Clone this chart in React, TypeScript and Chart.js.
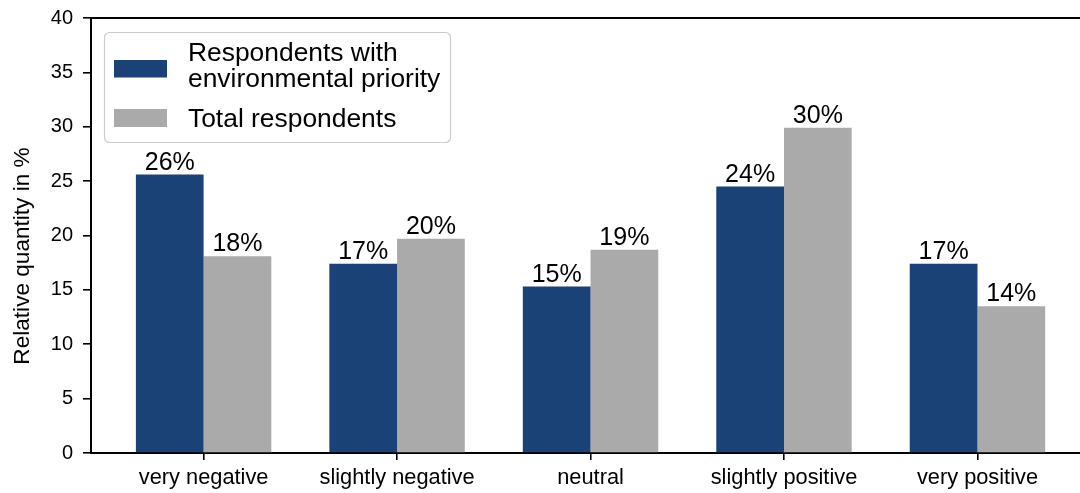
import React, { useEffect, useRef } from "react";
import { Chart, registerables } from "chart.js";

Chart.register(...registerables);

const categories = ["very negative", "slightly negative", "neutral", "slightly positive", "very positive"];
const envPriority = [25.6, 17.4, 15.3, 24.5, 17.4];
const totalResp = [18.1, 19.7, 18.7, 29.9, 13.5];
const envLabels = ["26%", "17%", "15%", "24%", "17%"];
const totalLabels = ["18%", "20%", "19%", "30%", "14%"];
const yTicks = [0, 5, 10, 15, 20, 25, 30, 35, 40];
const envName = ["Respondents with", "environmental priority"];
const totalName = ["Total respondents"];
const yTitle = "Relative quantity in %";

const BLUE = "#1b4276";
const GREY = "#aaaaaa";
const FONT = "'Liberation Sans', Arial, sans-serif";

export default function App() {
  const ref = useRef<HTMLCanvasElement>(null);
  useEffect(() => {
    document.body.style.margin = "0";
    document.body.style.overflow = "hidden";
    const canvas = ref.current!;
    const labelSets = [envLabels, totalLabels];

    const extras = {
      id: "extras",
      afterDraw(chart: any) {
        const ctx = chart.ctx;
        const ca = chart.chartArea;
        ctx.save();
        // top spine
        ctx.strokeStyle = "#000";
        ctx.lineWidth = 2;
        ctx.beginPath();
        ctx.moveTo(ca.left - 1, ca.top);
        ctx.lineTo(chart.width, ca.top);
        ctx.stroke();
        // bar labels
        ctx.fillStyle = "#000";
        ctx.font = `25px ${FONT}`;
        ctx.textAlign = "center";
        ctx.textBaseline = "alphabetic";
        chart.data.datasets.forEach((ds: any, di: number) => {
          const meta = chart.getDatasetMeta(di);
          meta.data.forEach((el: any, i: number) => {
            ctx.fillText(labelSets[di][i], el.x, el.y - 5);
          });
        });
        // y title
        ctx.save();
        ctx.translate(23, 256);
        ctx.rotate(-Math.PI / 2);
        ctx.font = `22.6px ${FONT}`;
        ctx.textAlign = "center";
        ctx.textBaseline = "middle";
        ctx.fillText(yTitle, 0, 0);
        ctx.restore();
        // legend
        const lx = 104.5, ly = 32.5, lw = 346, lh = 110, r = 5;
        ctx.beginPath();
        ctx.moveTo(lx + r, ly);
        ctx.arcTo(lx + lw, ly, lx + lw, ly + lh, r);
        ctx.arcTo(lx + lw, ly + lh, lx, ly + lh, r);
        ctx.arcTo(lx, ly + lh, lx, ly, r);
        ctx.arcTo(lx, ly, lx + lw, ly, r);
        ctx.closePath();
        ctx.fillStyle = "rgba(255,255,255,0.85)";
        ctx.fill();
        ctx.strokeStyle = "#cccccc";
        ctx.lineWidth = 1.2;
        ctx.stroke();
        ctx.fillStyle = BLUE;
        ctx.fillRect(114, 60, 53, 17.5);
        ctx.fillStyle = GREY;
        ctx.fillRect(114, 109, 53, 18);
        ctx.fillStyle = "#000";
        ctx.font = `26.4px ${FONT}`;
        ctx.textAlign = "left";
        ctx.textBaseline = "alphabetic";
        ctx.fillText(envName[0], 188, 61);
        ctx.fillText(envName[1], 188, 87);
        ctx.fillText(totalName[0], 188, 127);
        ctx.restore();
      },
    };

    const chart = new Chart(canvas, {
      type: "bar",
      data: {
        datasets: [
          {
            label: envName.join(" "),
            data: envPriority.map((v, i) => ({ x: i, y: v })),
            backgroundColor: BLUE,
            borderWidth: 0,
          },
          {
            label: totalName[0],
            data: totalResp.map((v, i) => ({ x: i, y: v })),
            backgroundColor: GREY,
            borderWidth: 0,
          },
        ],
      },
      options: {
        responsive: false,
        animation: false,
        devicePixelRatio: 1,
        layout: { padding: { top: 18, right: 0, left: 0, bottom: 0 } },
        datasets: { bar: { categoryPercentage: 0.7, barPercentage: 1.0 } },
        plugins: { legend: { display: false }, tooltip: { enabled: false } },
        scales: {
          x: {
            type: "linear",
            min: -0.582,
            max: 4.53,
            offset: false,
            afterBuildTicks: (scale: any) => {
              scale.ticks = categories.map((_, i) => ({ value: i }));
            },
            afterFit: (scale: any) => {
              scale.height = 40;
              scale.paddingLeft = 0;
              scale.paddingRight = 0;
            },
            ticks: {
              autoSkip: false,
              maxRotation: 0,
              color: "#000",
              font: { family: FONT, size: 21.8 },
              padding: 5,
              callback: (v: any) => categories[v] ?? "",
            },
            grid: {
              offset: false,
              drawOnChartArea: false,
              drawTicks: true,
              tickLength: 7,
              color: "#000",
              lineWidth: 1.6,
            },
            border: { display: true, color: "#000", width: 2 },
          },
          y: {
            min: 0,
            max: 40,
            afterBuildTicks: (scale: any) => {
              scale.ticks = yTicks.map((v) => ({ value: v }));
            },
            afterFit: (scale: any) => {
              scale.width = 91;
              scale.paddingTop = 0;
              scale.paddingBottom = 0;
            },
            ticks: {
              color: "#000",
              font: { family: FONT, size: 20 },
              padding: 10,
            },
            grid: {
              drawOnChartArea: false,
              drawTicks: true,
              tickLength: 8,
              color: "#000",
              lineWidth: 1.6,
            },
            border: { display: true, color: "#000", width: 2 },
          },
        },
      },
      plugins: [extras],
    } as any);
    return () => chart.destroy();
  }, []);
  return <canvas ref={ref} width={1080} height={493} style={{ display: "block" }} />;
}
